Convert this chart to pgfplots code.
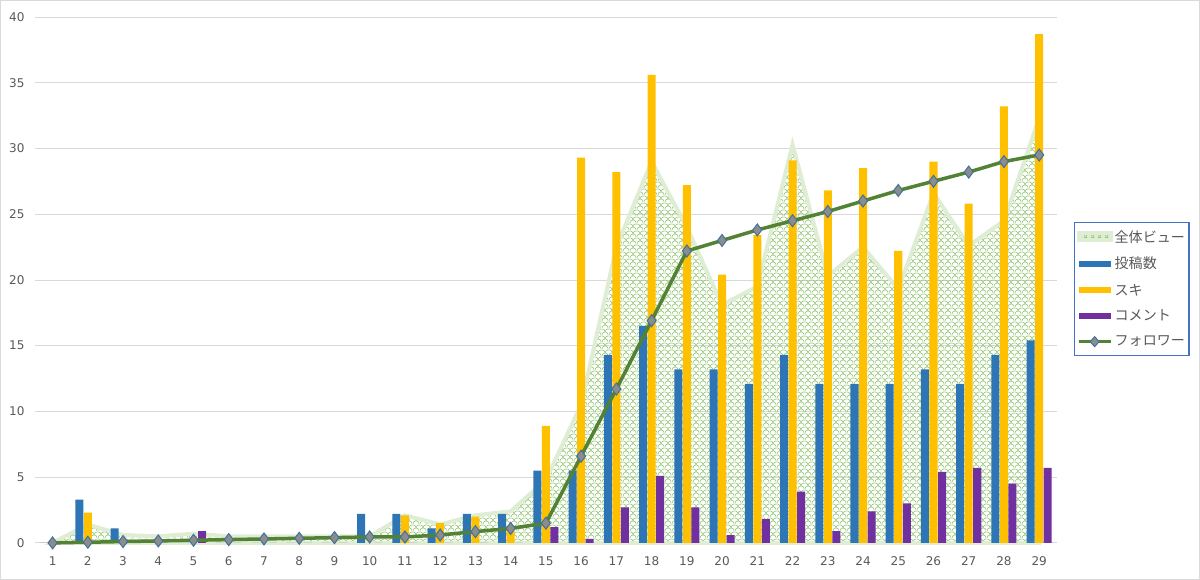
\documentclass[border=0pt]{standalone}
\usepackage{pgfplots}
\pgfplotsset{compat=1.18}
\usepackage{fontspec}
\setmainfont{Noto Sans CJK JP}
\newfontfamily\tickfont{DejaVu Sans}
\usetikzlibrary{patterns}
\definecolor{cblue}{RGB}{46,117,182}
\definecolor{cyellow}{RGB}{255,192,0}
\definecolor{cpurple}{RGB}{112,48,160}
\definecolor{cgreen}{RGB}{84,130,53}
\definecolor{cedge}{RGB}{222,237,212}
\definecolor{cpat}{RGB}{140,195,105}
\definecolor{cgrid}{RGB}{217,217,217}
\definecolor{ctext}{RGB}{89,89,89}
\definecolor{cmark}{RGB}{140,140,140}
\definecolor{cmarkedge}{RGB}{65,113,156}
\definecolor{clegend}{RGB}{68,114,196}
\pgfdeclarepatternformonly{scallop}{\pgfqpoint{0pt}{0pt}}{\pgfqpoint{7pt}{7pt}}{\pgfqpoint{7pt}{7pt}}{%
  \pgfsetlinewidth{0.6pt}%
  \pgfpathmoveto{\pgfqpoint{-3.5pt}{3.5pt}}%
  \pgfpatharc{180}{0}{3.5pt}%
  \pgfpathmoveto{\pgfqpoint{3.5pt}{3.5pt}}%
  \pgfpatharc{180}{0}{3.5pt}%
  \pgfpathmoveto{\pgfqpoint{0pt}{0pt}}%
  \pgfpatharc{180}{0}{3.5pt}%
  \pgfusepath{stroke}%
}
\pgfplotstableread{
x views posts suki comm follow
1 0 0 0 0 0
2 1.4 3.3 2.3 0 0.05
3 0.6 1.1 0 0 0.1
4 0.5 0 0 0 0.15
5 0.7 0 0 0.9 0.2
6 0.5 0 0 0 0.25
7 0.5 0 0 0 0.3
8 0.5 0 0 0 0.35
9 0.5 0 0 0 0.4
10 0.5 2.2 0 0 0.45
11 2.1 2.2 2.1 0 0.45
12 1.4 1.1 1.5 0 0.6
13 2.1 2.2 2.0 0 0.86
14 2.4 2.2 1.2 0 1.1
15 4.8 5.5 8.9 1.2 1.5
16 10.5 5.5 29.3 0.3 6.6
17 22.5 14.3 28.2 2.7 11.7
18 29.0 16.5 35.6 5.1 16.9
19 24.0 13.2 27.2 2.7 22.2
20 18.1 13.2 20.4 0.6 23.0
21 19.5 12.1 23.4 1.8 23.8
22 30.3 14.3 29.1 3.9 24.5
23 20.3 12.1 26.8 0.9 25.2
24 22.5 12.1 28.5 2.4 26.0
25 19.3 12.1 22.2 3.0 26.8
26 26.6 13.2 29.0 5.4 27.5
27 22.6 12.1 25.8 5.7 28.2
28 24.5 14.3 33.2 4.5 29.0
29 32.3 15.4 38.7 5.7 29.5
}\datatable
\begin{document}
\begin{tikzpicture}
\draw[cgrid, line width=0.8pt] (1.5pt,1.5pt) rectangle (1198.5pt,579.5pt);
\begin{axis}[
  at={(36pt,38pt)}, anchor=south west,
  width=1020pt, height=525pt, scale only axis,
  xmin=0.5, xmax=29.5, ymin=0, ymax=40,
  xtick={1,...,29}, ytick={0,5,...,40},
  ymajorgrids, grid style={cgrid, line width=0.8pt},
  axis x line*=bottom, axis y line*=left,
  x axis line style={cgrid, line width=0.8pt, -},
  y axis line style={draw=none},
  major tick length=0pt,
  tick label style={font=\tickfont\fontsize{12}{14}\selectfont, text=ctext},
  /pgf/number format/assume math mode=true,
  yticklabel style={xshift=-7pt},
  xticklabel style={yshift=-10pt},
  clip=false,
  legend cell align=left,
  legend style={at={(1.0167,0.611)}, anchor=north west,
    draw=clegend, line width=1.5pt, fill=white,
    font=\fontsize{14}{16}\selectfont\color{ctext},
    inner xsep=2pt, inner ysep=6pt,
    row sep=9.5pt},
]
\addplot[draw=cedge, line width=4pt, pattern=scallop, pattern color=cpat,
  legend image code/.code={\draw[cedge, line width=1pt, fill=cedge] (0pt,-3.5pt) rectangle (32pt,3.5pt);
    \fill[pattern=scallop, pattern color=cpat] (0pt,-3.5pt) rectangle (32pt,3.5pt);}]
  table[x=x, y=views] {\datatable} \closedcycle;
\addlegendentry{全体ビュー}
\addplot[ybar, bar width=8pt, bar shift=-8.5pt, fill=cblue, draw=none,
  legend image code/.code={\fill[cblue] (0pt,-3pt) rectangle (32pt,3pt);}]
  table[x=x, y=posts] {\datatable};
\addlegendentry{投稿数}
\addplot[ybar, bar width=8pt, bar shift=0pt, fill=cyellow, draw=none,
  legend image code/.code={\fill[cyellow] (0pt,-3pt) rectangle (32pt,3pt);}]
  table[x=x, y=suki] {\datatable};
\addlegendentry{スキ}
\addplot[ybar, bar width=8pt, bar shift=8.5pt, fill=cpurple, draw=none,
  legend image code/.code={\fill[cpurple] (0pt,-3pt) rectangle (32pt,3pt);}]
  table[x=x, y=comm] {\datatable};
\addlegendentry{コメント}
\addplot[cgreen, line width=3.5pt, mark=diamond*, mark size=6pt,
  mark options={fill=cmark, draw=cmarkedge, line width=1pt},
  legend image code/.code={\draw[cgreen, line width=3.5pt] (0pt,0pt) -- (32pt,0pt);
    \draw[fill=cmark, draw=cmarkedge, line width=1pt] (16pt,5pt) -- (20.5pt,0pt) -- (16pt,-5pt) -- (11.5pt,0pt) -- cycle;}]
  table[x=x, y=follow] {\datatable};
\addlegendentry{フォロワー}
\end{axis}
\end{tikzpicture}
\end{document}
